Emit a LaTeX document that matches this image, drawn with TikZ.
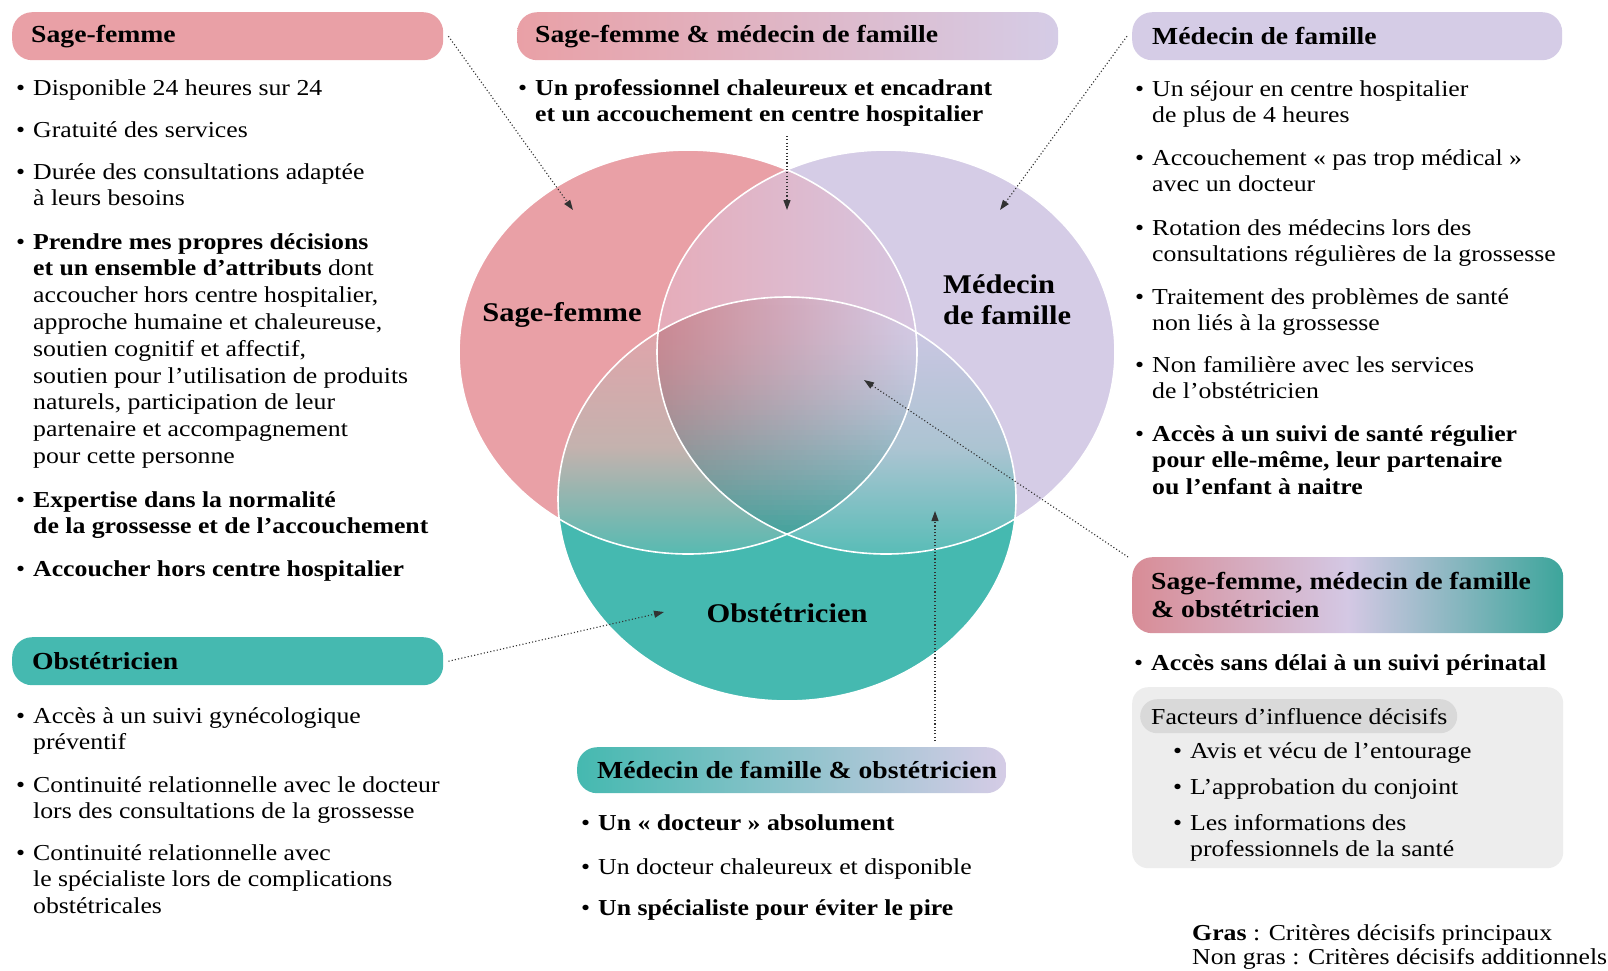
\documentclass[tikz,border=0pt]{standalone}
\usepackage{fontspec}
\setmainfont{Liberation Serif}[FakeStretch=1.13]
\usetikzlibrary{arrows.meta}
\definecolor{sfpink}{RGB}{233,160,166}
\definecolor{mfpurp}{RGB}{213,204,230}
\definecolor{obteal}{RGB}{69,185,176}
\definecolor{abL}{RGB}{230,172,185}
\definecolor{abR}{RGB}{214,198,225}
\definecolor{acT}{RGB}{224,164,170}
\definecolor{acM}{RGB}{196,178,174}
\definecolor{acB}{RGB}{75,187,178}
\definecolor{bcT}{RGB}{202,198,226}
\definecolor{bcM}{RGB}{172,196,210}
\definecolor{bcB}{RGB}{80,188,180}
\definecolor{trL}{RGB}{206,136,146}
\definecolor{trR}{RGB}{214,204,231}
\definecolor{trT}{RGB}{52,163,154}
\definecolor{allL}{RGB}{216,140,150}
\definecolor{allM}{RGB}{212,200,228}
\definecolor{allR}{RGB}{60,165,155}
\definecolor{boxgray}{RGB}{237,237,237}
\definecolor{pillgray}{RGB}{217,217,217}
\definecolor{connc}{RGB}{50,50,50}
\newcommand{\itembul}{\llap{\textbullet\hspace{8pt}}}
\def\vennA{(688,352) ellipse [x radius=229pt, y radius=202pt]}
\def\vennB{(886,352) ellipse [x radius=229pt, y radius=202pt]}
\def\vennC{(787,499) ellipse [x radius=229pt, y radius=202pt]}
\begin{document}
\begin{tikzpicture}[x=1pt,y=-1pt,
  pillbox/.style={rounded corners=20pt, minimum height=48pt, inner sep=0pt, anchor=north west},
  pilltext/.style={anchor=west, inner sep=0pt, align=left, font=\fontsize{24.5}{28}\selectfont\bfseries},
  body/.style={anchor=base west, align=left, inner sep=0pt, font=\fontsize{22.8}{26.8}\selectfont},
  vlabel/.style={font=\fontsize{27}{31}\selectfont\bfseries, inner sep=0pt},
  conn/.style={draw=connc, line width=1.1pt, dash pattern=on 1.1pt off 2.2pt, -{Triangle[length=10pt,width=7pt]}}]
\fill[white] (0,0) rectangle (1608,970);
\useasboundingbox (0,0) rectangle (1608,970);

% Venn diagram
\fill[sfpink] \vennA;
\fill[mfpurp] \vennB;
\fill[obteal] \vennC;
\begin{scope}
  \clip \vennA; \clip \vennB;
  \fill[left color=abL, right color=abR] (655,160) rectangle (920,545);
\end{scope}
\begin{scope}
  \clip \vennA; \clip \vennC;
  \fill[top color=acT, bottom color=acB, middle color=acM] (550,330) rectangle (800,565);
\end{scope}
\begin{scope}
  \clip \vennB; \clip \vennC;
  \fill[top color=bcT, bottom color=bcB, middle color=bcM] (775,330) rectangle (1025,565);
\end{scope}
\begin{scope}
  \clip \vennA; \clip \vennB; \clip \vennC;
  \fill[left color=trL, right color=trR] (655,295) rectangle (920,540);
  \foreach \i in {0,...,48} {
    \pgfmathsetmacro{\op}{0.95*((\i+0.5)/49)^1.9}
    \fill[trT, opacity=\op] (655,295+5*\i) rectangle (920,300+5*\i);
  }
\end{scope}
\draw[white, line width=1.6pt] \vennA;
\draw[white, line width=1.6pt] \vennB;
\draw[white, line width=1.6pt] \vennC;

\node[vlabel] (lsf) at (562,315) {Sage-femme};
\node[vlabel, align=left, anchor=west] (lmf) at (943,300) {Médecin\\de famille};
\node[vlabel] (lob) at (787,613) {Obstétricien};

% arrow targets and free ends
\coordinate (t1) at (573,210);
\coordinate (t2) at (787,210);
\coordinate (t3) at (1000,210);
\coordinate (t4) at (864,380);
\coordinate (t5) at (664,612);
\coordinate (t6) at (935,511);
\coordinate (s2) at (787,136);
\coordinate (s6) at (935,741);

% Sage-femme column
\node[pillbox, fill=sfpink, minimum width=431pt] (sfh) at (12,12) {};
\node[pilltext] (sfht) at ([xshift=19pt]sfh.west) {Sage-femme};
\node[body] (sf1) at (33,95) {\itembul Disponible 24 heures sur 24};
\node[body] (sf2) at (33,137) {\itembul Gratuité des services};
\node[body] (sf3) at (33,205.8) {\itembul Durée des consultations adaptée\\à leurs besoins};
\node[body] (sf4) at (33,463.4) {\itembul\textbf{Prendre mes propres décisions}\\\textbf{et un ensemble d’attributs} dont\\accoucher hors centre hospitalier,\\approche humaine et chaleureuse,\\soutien cognitif et affectif,\\soutien pour l’utilisation de produits\\naturels, participation de leur\\partenaire et accompagnement\\pour cette personne};
\node[body] (sf5) at (33,533.8) {\itembul\textbf{Expertise dans la normalité}\\\textbf{de la grossesse et de l’accouchement}};
\node[body] (sf6) at (33,576) {\itembul\textbf{Accoucher hors centre hospitalier}};

% Sage-femme & medecin de famille
\node[pillbox, left color=sfpink, right color=mfpurp, minimum width=541pt] (sfmfh) at (517,12) {};
\node[pilltext] (sfmfht) at ([xshift=18pt]sfmfh.west) {Sage-femme \& médecin de famille};
\node[body] (sfmf1) at (535,121.8) {\itembul\textbf{Un professionnel chaleureux et encadrant}\\\textbf{et un accouchement en centre hospitalier}};

% Medecin de famille column
\node[pillbox, fill=mfpurp, minimum width=430pt] (mfh) at (1132,12) {};
\node[pilltext] (mfht) at ([xshift=20pt]mfh.west) {Médecin de famille};
\node[body] (mf1) at (1152,122.8) {\itembul Un séjour en centre hospitalier\\de plus de 4 heures};
\node[body] (mf2) at (1152,191.8) {\itembul Accouchement « pas trop médical »\\avec un docteur};
\node[body] (mf3) at (1152,261.8) {\itembul Rotation des médecins lors des\\consultations régulières de la grossesse};
\node[body] (mf4) at (1152,330.8) {\itembul Traitement des problèmes de santé\\non liés à la grossesse};
\node[body] (mf5) at (1152,398.8) {\itembul Non familière avec les services\\de l’obstétricien};
\node[body] (mf6) at (1152,494.6) {\itembul\textbf{Accès à un suivi de santé régulier}\\\textbf{pour elle-même, leur partenaire}\\\textbf{ou l’enfant à naitre}};

% All three
\node[pillbox, left color=allL, right color=allR, middle color=allM, minimum width=431pt, minimum height=76pt] (allh) at (1132,557) {};
\node[pilltext] (allht) at ([xshift=19pt]allh.west) {Sage-femme, médecin de famille\\\& obstétricien};
\node[body] (all1) at (1151,670) {\itembul\textbf{Accès sans délai à un suivi périnatal}};
\node[fill=boxgray, rounded corners=16pt, anchor=north west, minimum width=431pt, minimum height=181pt, inner sep=0pt] (fbox) at (1132,687) {};
\node[fill=pillgray, rounded corners=17pt, anchor=north west, minimum width=317pt, minimum height=34pt, inner sep=0pt] (fh) at (1140,699) {};
\node[anchor=west, inner sep=0pt, font=\fontsize{22.8}{26.8}\selectfont] (fht) at ([xshift=11pt]fh.west) {Facteurs d’influence décisifs};
\node[body] (f1) at (1190,758) {\itembul Avis et vécu de l’entourage};
\node[body] (f2) at (1190,794) {\itembul L’approbation du conjoint};
\node[body] (f3) at (1190,856.8) {\itembul Les informations des\\professionnels de la santé};

% Obstetricien column
\node[pillbox, fill=obteal, minimum width=431pt] (obh) at (12,637) {};
\node[pilltext] (obht) at ([xshift=20pt]obh.west) {Obstétricien};
\node[body] (ob1) at (33,749.8) {\itembul Accès à un suivi gynécologique\\préventif};
\node[body] (ob2) at (33,818.8) {\itembul Continuité relationnelle avec le docteur\\lors des consultations de la grossesse};
\node[body] (ob3) at (33,913.6) {\itembul Continuité relationnelle avec\\le spécialiste lors de complications\\obstétricales};

% Medecin de famille & obstetricien
\node[pillbox, left color=obteal, right color=mfpurp, minimum width=429pt, minimum height=46pt] (mobh) at (577,747) {};
\node[pilltext] (mobht) at ([xshift=20pt]mobh.west) {Médecin de famille \& obstétricien};
\node[body] (mo1) at (598,830) {\itembul\textbf{Un « docteur » absolument}};
\node[body] (mo2) at (598,874) {\itembul Un docteur chaleureux et disponible};
\node[body] (mo3) at (598,915) {\itembul\textbf{Un spécialiste pour éviter le pire}};

% Legend
\node[body] (lg1) at (1192,940) {\textbf{Gras} : Critères décisifs principaux};
\node[body] (lg2) at (1192,964) {Non gras : Critères décisifs additionnels};

% connectors
\draw[conn] ([xshift=5pt]sfh.east) -- (t1);
\draw[conn] (s2) -- (t2);
\draw[conn] ([xshift=-5pt]mfh.west) -- (t3);
\draw[conn] ([xshift=-4pt]allh.north west) -- (t4);
\draw[conn] ([xshift=5pt]obh.east) -- (t5);
\draw[conn] (s6) -- (t6);
\end{tikzpicture}
\end{document}
